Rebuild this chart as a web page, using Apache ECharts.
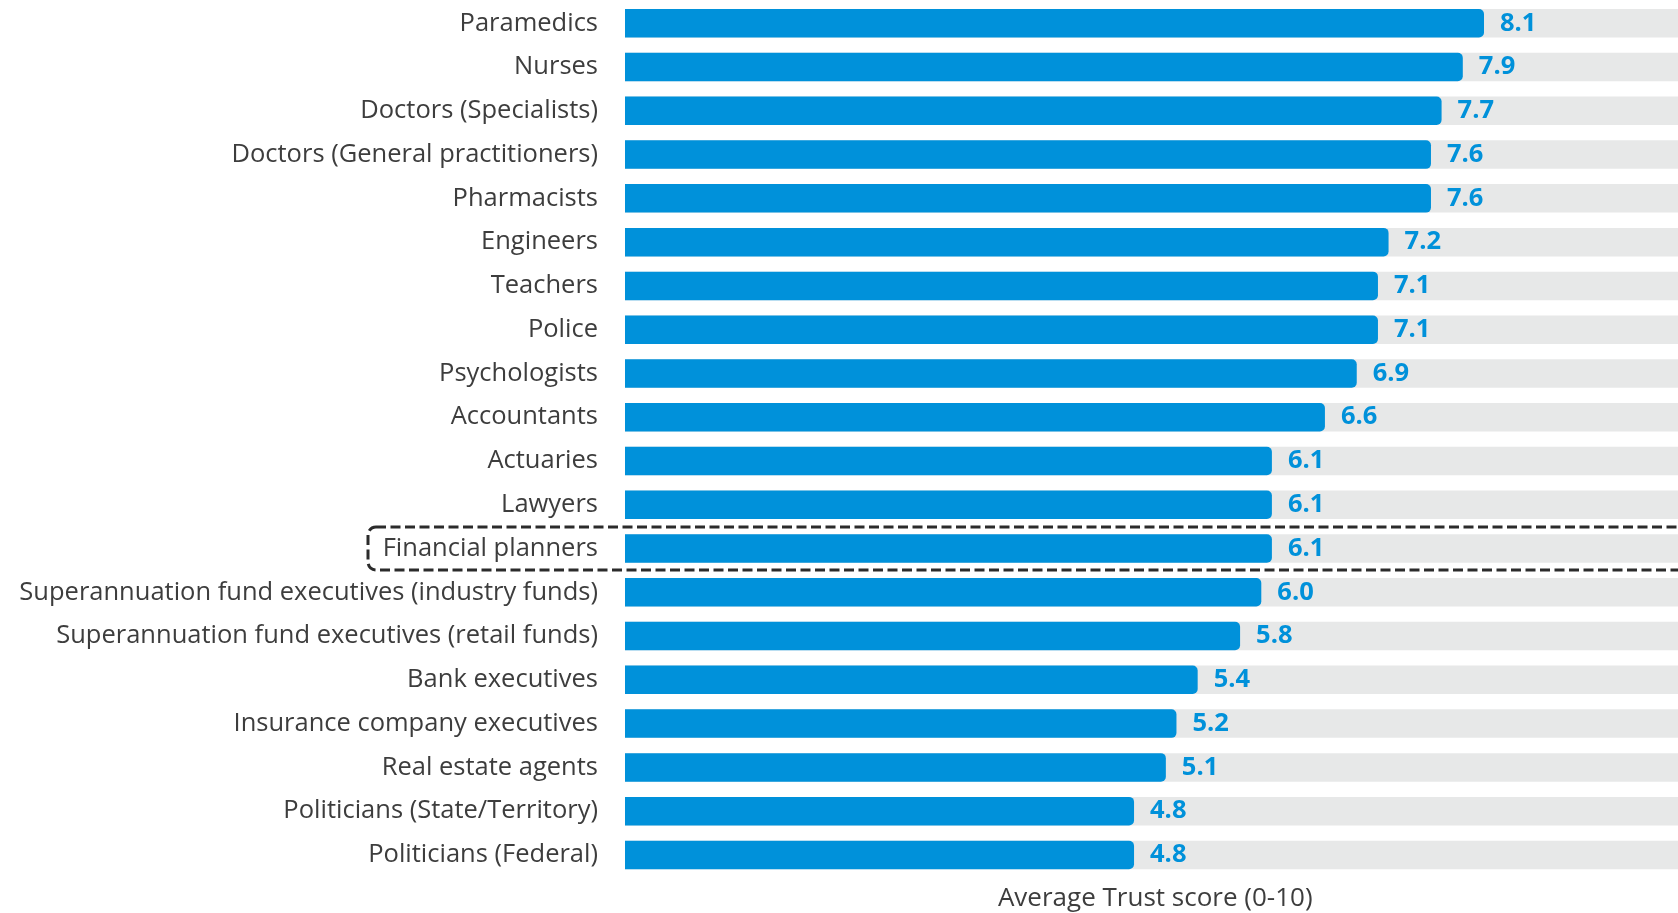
<!DOCTYPE html>
<html>
<head>
<meta charset="utf-8">
<script src="https://cdn.jsdelivr.net/npm/echarts@6/dist/echarts.min.js"></script>
<style>
  html, body { margin: 0; padding: 0; background: #ffffff; }
  #chart { width: 1678px; height: 913px; }
</style>
</head>
<body>
<div id="chart"></div>
<script>
// Professions, ranked by average trust score (0-10)
const professions = [
  'Paramedics',
  'Nurses',
  'Doctors (Specialists)',
  'Doctors (General practitioners)',
  'Pharmacists',
  'Engineers',
  'Teachers',
  'Police',
  'Psychologists',
  'Accountants',
  'Actuaries',
  'Lawyers',
  'Financial planners',
  'Superannuation fund executives (industry funds)',
  'Superannuation fund executives (retail funds)',
  'Bank executives',
  'Insurance company executives',
  'Real estate agents',
  'Politicians (State/Territory)',
  'Politicians (Federal)'
];
const trustScores = [8.1, 7.9, 7.7, 7.6, 7.6, 7.2, 7.1, 7.1, 6.9, 6.6, 6.1, 6.1, 6.1, 6.0, 5.8, 5.4, 5.2, 5.1, 4.8, 4.8];
const scoreRange = [0, 10];
const highlighted = 'Financial planners';
const axisTitle = 'Average Trust score (0-10)';

const BLUE = '#0091DA';
const TEXT = '#3d3d3d';
const FONT = '"Open Sans", "Noto Sans", sans-serif';

const chart = echarts.init(document.getElementById('chart'), null, { renderer: 'canvas' });

chart.setOption({
  animation: false,
  backgroundColor: '#ffffff',
  grid: {
    left: 625, top: 1.4, width: 1060.5, height: 875.4,
    containLabel: false, outerBoundsMode: 'none'
  },
  xAxis: {
    type: 'value',
    min: scoreRange[0],
    max: scoreRange[1],
    axisLine: { show: false },
    axisTick: { show: false },
    axisLabel: { show: false },
    splitLine: { show: false },
    name: axisTitle,
    nameLocation: 'middle',
    nameGap: 8,
    nameTextStyle: { color: TEXT, fontSize: 26, lineHeight: 28, fontFamily: FONT, verticalAlign: 'top' }
  },
  yAxis: {
    type: 'category',
    inverse: true,
    data: professions,
    axisLine: { show: false },
    axisTick: { show: false },
    axisLabel: { color: TEXT, fontSize: 25.5, fontFamily: FONT, margin: 27 }
  },
  series: [{
    type: 'bar',
    data: trustScores,
    barWidth: 28.5,
    showBackground: true,
    backgroundStyle: { color: '#E7E8E8', borderRadius: [0, 4, 4, 0] },
    itemStyle: { color: BLUE, borderRadius: [0, 5, 5, 0] },
    label: {
      show: true,
      position: 'right',
      distance: 16,
      color: BLUE,
      fontSize: 25.5,
      fontWeight: 'bold',
      fontFamily: FONT,
      formatter: p => p.value.toFixed(1)
    }
  }]
});

// Dashed outline around the highlighted profession row
const cy = chart.convertToPixel({ yAxisIndex: 0 }, highlighted);
const boxH = 43;
chart.setOption({
  graphic: [{
    type: 'rect',
    z: 100,
    shape: { x: 368, y: cy - boxH / 2, width: 1400, height: boxH, r: [8, 0, 0, 8] },
    style: { fill: 'none', stroke: '#2b2b2b', lineWidth: 3, lineDash: [10, 4.5] }
  }]
});
</script>
</body>
</html>
